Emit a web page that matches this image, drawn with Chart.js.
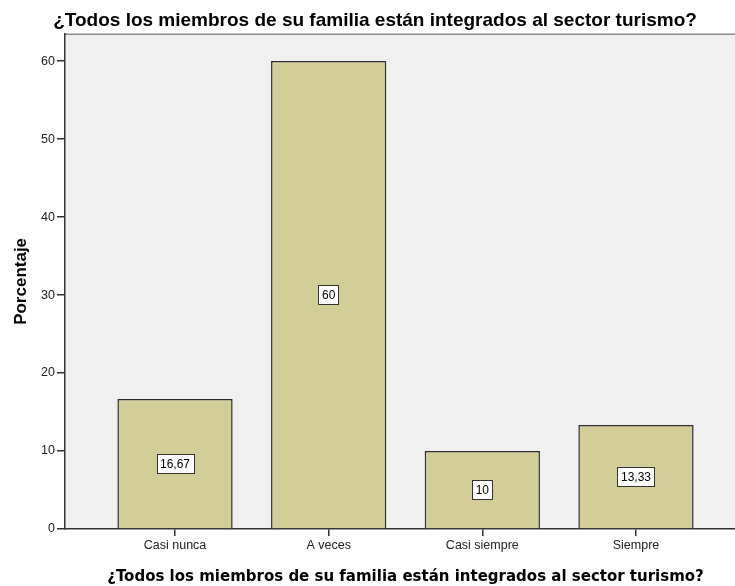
<!DOCTYPE html>
<html>
<head>
<meta charset="utf-8">
<script src="https://cdn.jsdelivr.net/npm/chart.js@4.4.0/dist/chart.umd.min.js"></script>
<style>
html,body{margin:0;padding:0;overflow:hidden;background:#fff;}
#wrap{width:752px;height:586px;}
</style>
</head>
<body>
<div id="wrap"><canvas id="c" width="752" height="586"></canvas></div>
<script>
const chartTitle = "¿Todos los miembros de su familia están integrados al sector turismo?";
const categories = ["Casi nunca", "A veces", "Casi siempre", "Siempre"];
const percentages = [16.67, 60, 10, 13.33];
const yTicks = [0, 10, 20, 30, 40, 50, 60];
const yAxisTitle = "Porcentaje";
const xAxisTitle = "¿Todos los miembros de su familia están integrados al sector turismo?";

const points = categories.map((c, i) => ({x: i, y: percentages[i]}));

const plotBg = {
  id: 'plotBg',
  beforeDraw(chart) {
    const {ctx, chartArea: a} = chart;
    ctx.save();
    ctx.fillStyle = '#f0f0f0';
    ctx.fillRect(a.left, a.top, a.right - a.left, a.bottom - a.top);
    ctx.strokeStyle = '#8a8a8a';
    ctx.lineWidth = 1.5;
    ctx.beginPath();
    ctx.moveTo(a.left, a.top + 0.5);
    ctx.lineTo(a.right, a.top + 0.5);
    ctx.stroke();
    ctx.restore();
  }
};

const barLabels = {
  id: 'barLabels',
  afterDatasetsDraw(chart) {
    const {ctx} = chart;
    const meta = chart.getDatasetMeta(0);
    ctx.save();
    ctx.font = '12px "Liberation Sans", Arial, sans-serif';
    ctx.textAlign = 'center';
    ctx.textBaseline = 'middle';
    meta.data.forEach((el, i) => {
      const txt = String(percentages[i]).replace('.', ',');
      const cx = el.x;
      const cy = (el.y + el.base) / 2;
      const w = ctx.measureText(txt).width + 7;
      const h = 19;
      const x0 = Math.round(cx - w / 2) + 0.5;
      const y0 = Math.round(cy - h / 2) + 0.5;
      ctx.fillStyle = '#ffffff';
      ctx.fillRect(x0, y0, Math.round(w), h);
      ctx.strokeStyle = '#333333';
      ctx.lineWidth = 1;
      ctx.strokeRect(x0, y0, Math.round(w), h);
      ctx.fillStyle = '#000000';
      ctx.fillText(txt, cx, cy + 1);
    });
    ctx.restore();
  }
};

new Chart(document.getElementById('c'), {
  type: 'bar',
  data: {
    datasets: [{
      data: points,
      backgroundColor: '#d3ce97',
      borderColor: '#2b2b2b',
      borderWidth: 1.5,
      barPercentage: 0.75,
      categoryPercentage: 1.0
    }]
  },
  options: {
    responsive: false,
    animation: false,
    layout: {padding: {left: 4, right: 6, top: 0, bottom: 0}},
    plugins: {
      legend: {display: false},
      tooltip: {enabled: false},
      title: {
        display: true,
        text: chartTitle,
        color: '#000',
        font: {family: '"Liberation Sans", Arial, sans-serif', size: 19, weight: 'bold'},
        padding: {top: 9, bottom: 2}
      }
    },
    scales: {
      x: {
        type: 'linear',
        offset: false,
        min: -0.716,
        max: 3.716,
        afterBuildTicks(axis) { axis.ticks = categories.map((c, i) => ({value: i})); },
        ticks: {
          callback: (v) => categories[v],
          color: '#222',
          font: {family: '"Liberation Sans", Arial, sans-serif', size: 12.5},
          padding: 2,
          autoSkip: false,
          maxRotation: 0
        },
        grid: {offset: false, drawOnChartArea: false, drawTicks: true, tickLength: 7, color: '#333', lineWidth: 1.5},
        border: {display: true, color: '#333', width: 1.5},
        title: {
          display: true,
          text: xAxisTitle,
          color: '#000',
          font: {family: '"DejaVu Sans", Verdana, sans-serif', size: 15, weight: 'bold'},
          padding: {top: 13, bottom: 0}
        }
      },
      y: {
        min: 0,
        max: 63.5,
        afterBuildTicks(axis) { axis.ticks = yTicks.map(v => ({value: v})); },
        afterFit(axis) { axis.width = 61; },
        ticks: {
          color: '#222',
          font: {family: '"Liberation Sans", Arial, sans-serif', size: 12.5},
          padding: 2
        },
        grid: {drawOnChartArea: false, drawTicks: true, tickLength: 8, color: '#333', lineWidth: 1.5},
        border: {display: true, color: '#333', width: 1.5},
        title: {
          display: true,
          text: yAxisTitle,
          color: '#000',
          font: {family: '"Liberation Sans", Arial, sans-serif', size: 17, weight: 'bold'},
          padding: {top: 7, bottom: 10}
        }
      }
    }
  },
  plugins: [plotBg, barLabels]
});
</script>
</body>
</html>
